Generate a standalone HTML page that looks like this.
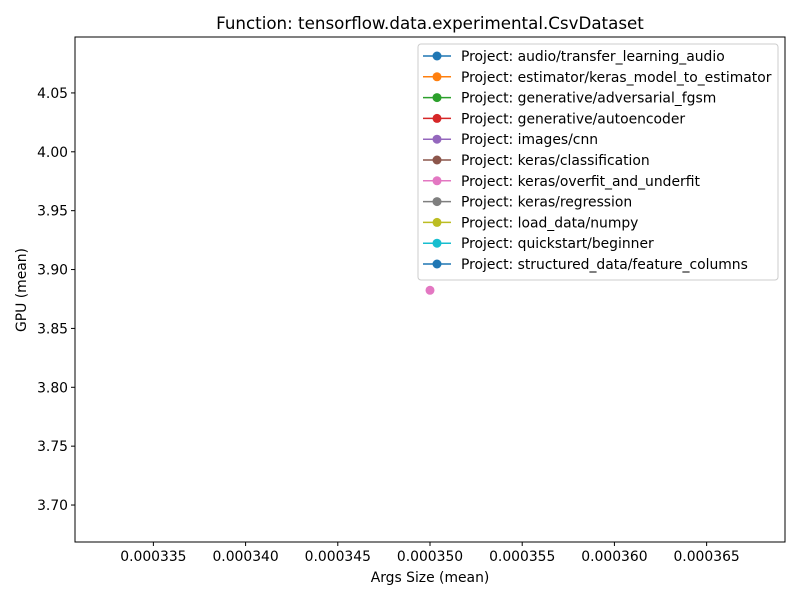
<!DOCTYPE html>
<html><head><meta charset="utf-8"><style>body{margin:0;background:#fff}svg{font-family:"DejaVu Sans","Liberation Sans",sans-serif}</style></head>
<body>
<svg id="c" width="800" height="600" xmlns="http://www.w3.org/2000/svg"></svg>
<script>
const projects=["audio/transfer_learning_audio","estimator/keras_model_to_estimator","generative/adversarial_fgsm","generative/autoencoder","images/cnn","keras/classification","keras/overfit_and_underfit","keras/regression","load_data/numpy","quickstart/beginner","structured_data/feature_columns"];
const colors=["#1f77b4","#ff7f0e","#2ca02c","#d62728","#9467bd","#8c564b","#e377c2","#7f7f7f","#bcbd22","#17becf","#1f77b4"];
const pointX=[0.00035];
const pointY=[3.8824];
const pointSeries=[6];
const xTicks=[0.000335,0.000340,0.000345,0.000350,0.000355,0.000360,0.000365];
const yTicks=[3.70,3.75,3.80,3.85,3.90,3.95,4.00,4.05];
const L=75,R=785,T=37,B=542;
const xMin=0.00033075,xMax=0.00036925,yMin=3.6686,yMax=4.0975;
const sx=v=>L+(v-xMin)/(xMax-xMin)*(R-L);
const sy=v=>B-(v-yMin)/(yMax-yMin)*(B-T);
const svg=document.getElementById('c');const NS="http://www.w3.org/2000/svg";
const FS=13.9;
function el(t,a,txt){const e=document.createElementNS(NS,t);for(const k in a)e.setAttribute(k,a[k]);if(txt!=null)e.textContent=txt;svg.appendChild(e);return e;}
let e;
e=el('rect',{x:L,y:T,width:R-L,height:B-T,fill:'#fff',stroke:'#000','stroke-width':1});


xTicks.forEach(v=>{const x=sx(v);
e=el('line',{x1:x,x2:x,y1:B,y2:B+4,stroke:'#000'});


e=el('text',{x:x,y:B+19,'font-size':FS,'text-anchor':'middle'},v.toFixed(6));

});
yTicks.forEach(v=>{const y=sy(v);
e=el('line',{x1:L-4,x2:L,y1:y,y2:y,stroke:'#000'});


e=el('text',{x:L-7,y:y+5,'font-size':FS,'text-anchor':'end'},v.toFixed(2));

});
e=el('text',{x:430,y:582,'font-size':FS,'text-anchor':'middle'},'Args Size (mean)');


e=el('text',{x:26,y:290,'font-size':FS,'text-anchor':'middle',transform:'rotate(-90 26 290)'},'GPU (mean)');


e=el('text',{x:430,y:29,'font-size':16.7,'text-anchor':'middle'},'Function: tensorflow.data.experimental.CsvDataset');


pointX.forEach((v,i)=>{
e=el('circle',{cx:sx(v),cy:sy(pointY[i]),r:4.5,fill:colors[pointSeries[i]]});

});
e=el('rect',{x:418,y:44,width:360,height:236,fill:'#fff','fill-opacity':0.8,stroke:'#ccc',rx:3});


projects.forEach((p,i)=>{const y=56+i*20.8;
e=el('line',{x1:423,x2:451,y1:y,y2:y,stroke:colors[i],'stroke-width':1.5});


e=el('circle',{cx:437,cy:y,r:4.5,fill:colors[i]});


e=el('text',{x:461,y:y+5,'font-size':FS},'Project: '+p);

});
</script>
</body></html>
